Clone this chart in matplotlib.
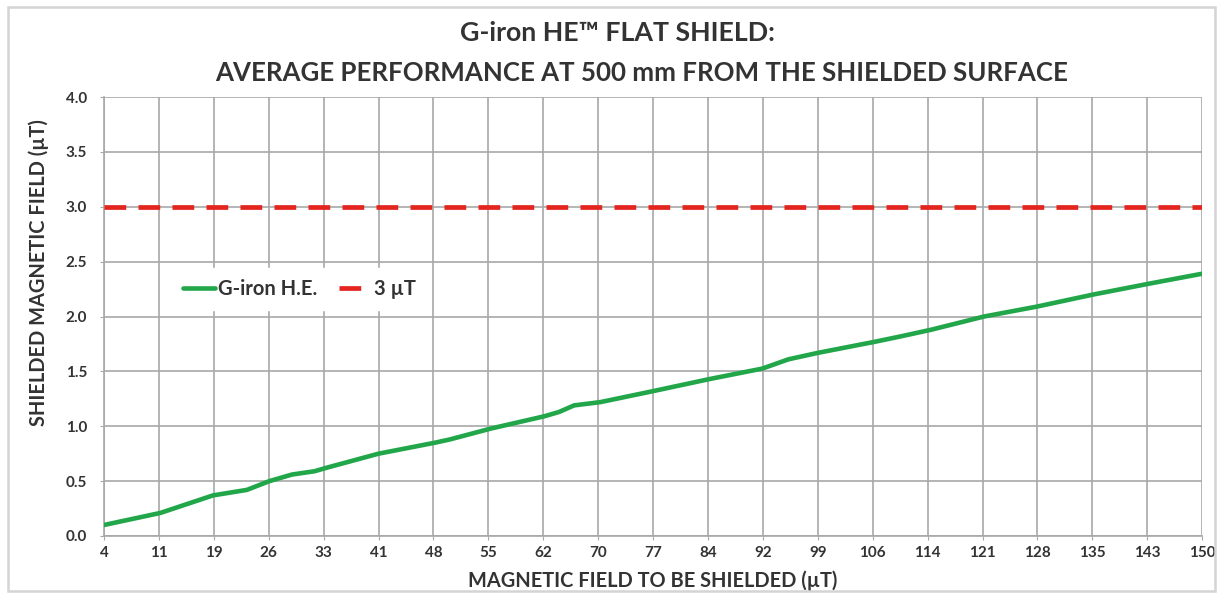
"""
G-iron HE flat shield - average performance at 500 mm
"""
import numpy as np
import matplotlib.pyplot as plt
from matplotlib.patches import Rectangle

plt.rcParams['font.family'] = ['Lato', 'DejaVu Sans']

# Curve (field to be shielded, shielded field) in uT
field_in = [4, 11.5, 18.5, 23, 26, 29, 32, 33.5, 40.5, 43.5, 48, 50, 55.5, 62.5,
            64.5, 66.5, 70, 77, 84.5, 91.5, 95, 99, 106.5, 110, 114, 121, 128,
            135.5, 143, 150]
field_out = [0.10, 0.21, 0.37, 0.42, 0.50, 0.56, 0.59, 0.62, 0.75, 0.79, 0.85, 0.88,
             0.98, 1.09, 1.13, 1.19, 1.22, 1.32, 1.43, 1.525, 1.61, 1.67, 1.77, 1.82,
             1.88, 2.00, 2.09, 2.20, 2.30, 2.39]
limit_value = 3.0

x_tick_labels = ['4', '11', '19', '26', '33', '41', '48', '55', '62', '70', '77',
                 '84', '92', '99', '106', '114', '121', '128', '135', '143', '150']
y_ticks = [0.0, 0.5, 1.0, 1.5, 2.0, 2.5, 3.0, 3.5, 4.0]

text_color = '#333333'
grid_color = '#a8a8a8'

fig = plt.figure(figsize=(12.23, 5.96), dpi=100)
ax = fig.add_axes([0.085, 0.1007, 0.898, 0.7365])

# light frame around the whole chart
fig.patches.append(Rectangle((0.0065, 0.008), 0.987, 0.98, transform=fig.transFigure,
                             fill=False, edgecolor='#d4d4d4', linewidth=1.8))

x_min, x_max = field_in[0], field_in[-1]
ax.plot(field_in, field_out, color='#22a64a', linewidth=3.3,
        solid_capstyle='round', label='G-iron H.E.', zorder=3)
ax.plot([x_min, x_max], [limit_value, limit_value], color='#e3241f', linewidth=3.4,
        linestyle=(0, (4.6, 2.6)), label='3 \u00b5T', zorder=3)

ax.set_xlim(x_min, x_max)
ax.set_ylim(0, 4.0)
ax.set_xticks(np.linspace(x_min, x_max, len(x_tick_labels)), labels=x_tick_labels)
ax.set_yticks(y_ticks, labels=[f'{v:.1f}' for v in y_ticks])

ax.grid(True, color=grid_color, linewidth=1.2)
ax.set_axisbelow(True)
for side in ['top', 'right']:
    ax.spines[side].set_visible(False)
for side in ['left', 'bottom']:
    ax.spines[side].set_color(grid_color)
    ax.spines[side].set_linewidth(1.2)

ax.tick_params(axis='both', length=3, color=grid_color, labelsize=11,
               labelcolor=text_color)
ax.tick_params(axis='y', pad=9)
ax.tick_params(axis='x', pad=4)
for lbl in ax.get_xticklabels() + ax.get_yticklabels():
    lbl.set_fontweight('bold')

ax.set_xlabel('MAGNETIC FIELD TO BE SHIELDED (\u00b5T)', fontsize=14.4,
              fontweight='bold', color=text_color)
ax.xaxis.set_label_coords(0.5, -0.079)
ax.set_ylabel('SHIELDED MAGNETIC FIELD (\u00b5T)', fontsize=14.4,
              fontweight='bold', color=text_color)
ax.yaxis.set_label_coords(-0.05, 0.60)

fig.text(0.5045, 0.945, 'G-iron HE\u2122 FLAT SHIELD:', ha='center', va='center',
         fontsize=19.3, fontweight='bold', color=text_color)
fig.text(0.525, 0.878, 'AVERAGE PERFORMANCE AT 500 mm FROM THE SHIELDED SURFACE',
         ha='center', va='center', fontsize=18.6, fontweight='bold', color=text_color)

leg = ax.legend(loc='center', bbox_to_anchor=(0.178, 0.563), ncol=2, frameon=True,
                fancybox=False, edgecolor='white', framealpha=1.0,
                prop={'weight': 'bold', 'size': 14.5}, handlelength=1.6,
                handletextpad=0.15, columnspacing=1.1, borderpad=0.55)
for t in leg.get_texts():
    t.set_color(text_color)
leg.set_zorder(5)

plt.savefig('out.png', dpi=100)
plt.close()
